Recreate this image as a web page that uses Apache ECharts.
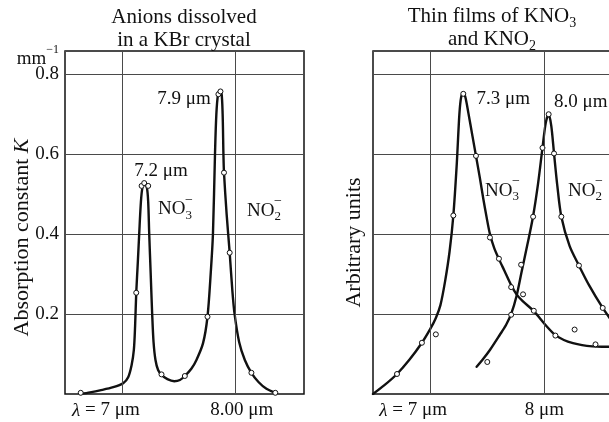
<!DOCTYPE html>
<html>
<head>
<meta charset="utf-8">
<script src="https://cdn.jsdelivr.net/npm/echarts@6/dist/echarts.min.js"></script>
<style>
  html, body { margin: 0; padding: 0; background: #fff; }
  #chart { width: 609px; height: 422px; }
</style>
</head>
<body>
<div id="chart"></div>
<script>
const FONT = '"Liberation Serif", "Times New Roman", serif';
const INK = '#111';
const GRID_INK = '#4a4a4a';

// Shared wavelength range (μm) and vertical range of both panels
const X_MIN = 6.5, X_MAX = 8.6;
const Y_MAX = 0.857;
const xGridValues = [7, 8];
const yTickValues = [0.2, 0.4, 0.6, 0.8];

// Tick texts
const kbrXTickLabels = ['λ = 7 μm', '8.00 μm'];
const filmXTickLabels = ['λ = 7 μm', '8 μm'];
const kbrUnit = 'mm';

// Panel 1: anions dissolved in a KBr crystal — fitted curve [λ μm, K mm⁻¹]
const kbrCurve = [
  [6.638, 0.0], [6.72, 0.004], [6.807, 0.009], [6.924, 0.017], [7.011, 0.027],
  [7.055, 0.042], [7.085, 0.072], [7.105, 0.11], [7.116, 0.17], [7.126, 0.253],
  [7.14, 0.33], [7.152, 0.4], [7.167, 0.48], [7.18, 0.515], [7.2, 0.527],
  [7.22, 0.515], [7.231, 0.48], [7.24, 0.4], [7.253, 0.3], [7.266, 0.2],
  [7.278, 0.13], [7.295, 0.085], [7.318, 0.06], [7.348, 0.048], [7.4, 0.037],
  [7.46, 0.032], [7.51, 0.035], [7.553, 0.045], [7.61, 0.063], [7.655, 0.085],
  [7.713, 0.127], [7.752, 0.193], [7.78, 0.3], [7.8, 0.4], [7.818, 0.6],
  [7.83, 0.7], [7.845, 0.75], [7.86, 0.758], [7.875, 0.753], [7.885, 0.7],
  [7.892, 0.6], [7.897, 0.553], [7.92, 0.45], [7.947, 0.353], [7.97, 0.26],
  [7.99, 0.2], [8.03, 0.13], [8.08, 0.085], [8.138, 0.053], [8.2, 0.03],
  [8.27, 0.013], [8.348, 0.003]
];
// Panel 1: measured points
const kbrPoints = [
  [6.638, 0.003], [7.126, 0.253], [7.173, 0.52], [7.196, 0.527], [7.231, 0.52],
  [7.348, 0.049], [7.553, 0.045], [7.752, 0.193], [7.848, 0.749], [7.866, 0.756],
  [7.897, 0.553], [7.947, 0.353], [8.138, 0.053], [8.348, 0.003]
];

// Panel 2: thin films of KNO3 and KNO2 — fitted curves (arbitrary units)
const filmNO3Curve = [
  [6.5, 0.0], [6.6, 0.022], [6.71, 0.05], [6.82, 0.086], [6.928, 0.128],
  [7.0, 0.162], [7.05, 0.19], [7.09, 0.222], [7.131, 0.282], [7.17, 0.356],
  [7.203, 0.446], [7.233, 0.575], [7.256, 0.7], [7.272, 0.743], [7.29, 0.752],
  [7.308, 0.742], [7.334, 0.703], [7.37, 0.645], [7.401, 0.595], [7.435, 0.54],
  [7.465, 0.488], [7.495, 0.44], [7.523, 0.4], [7.56, 0.365], [7.602, 0.337],
  [7.65, 0.308], [7.709, 0.272], [7.756, 0.249], [7.81, 0.232], [7.907, 0.207],
  [8.017, 0.17], [8.096, 0.147], [8.17, 0.135], [8.25, 0.127], [8.33, 0.122],
  [8.42, 0.119], [8.5, 0.118], [8.6, 0.118]
];
const filmNO2Curve = [
  [7.407, 0.068], [7.465, 0.088], [7.523, 0.11], [7.61, 0.148], [7.665, 0.173],
  [7.709, 0.2], [7.756, 0.245], [7.8, 0.305], [7.85, 0.372], [7.9, 0.443],
  [7.944, 0.525], [7.983, 0.615], [8.012, 0.678], [8.037, 0.699], [8.06, 0.67],
  [8.084, 0.601], [8.113, 0.52], [8.148, 0.443], [8.22, 0.37], [8.302, 0.321],
  [8.394, 0.27], [8.51, 0.215], [8.6, 0.178]
];
// Panel 2: measured points
const filmPoints = [
  [6.71, 0.05], [6.928, 0.128], [7.05, 0.149], [7.203, 0.446], [7.29, 0.75],
  [7.401, 0.595], [7.523, 0.391], [7.602, 0.338], [7.709, 0.267], [7.813, 0.249],
  [7.907, 0.208], [8.096, 0.146], [8.264, 0.161], [8.447, 0.124],
  [7.5, 0.08], [7.709, 0.198], [7.796, 0.323], [7.901, 0.443], [7.983, 0.615],
  [8.037, 0.699], [8.084, 0.601], [8.148, 0.443], [8.302, 0.321], [8.51, 0.215]
];

// Peak wavelength notes [λ, y, text] and ion labels [λ, y, subscript]
const kbrNotes = [[7.344, 0.556, '7.2 μm'], [7.546, 0.736, '7.9 μm']];
const filmNotes = [[7.64, 0.737, '7.3 μm'], [8.318, 0.73, '8.0 μm']];
const kbrIons = [[7.466, 0.46, '3'], [8.249, 0.457, '2']];
const filmIons = [[7.629, 0.507, '3'], [8.355, 0.507, '2']];

const near = (a, b) => Math.abs(a - b) < 1e-6;

function xAxis(idx, texts, shifts) {
  return {
    type: 'value', gridIndex: idx, min: X_MIN, max: X_MAX, interval: 0.5,
    splitLine: { show: false }, axisLine: { show: false }, axisTick: { show: false },
    axisLabel: {
      margin: 7, showMinLabel: true, showMaxLabel: true,
      color: INK, fontFamily: FONT, fontSize: 19,
      formatter: v => {
        const k = xGridValues.findIndex(t => near(t, v));
        if (k < 0) return '';
        const body = texts[k].replace('λ', '{i|λ}');
        const s = shifts[k];
        if (s < 0) return body + '{p' + (-s) + '| }';
        if (s > 0) return '{p' + s + '| }' + body;
        return body;
      },
      rich: {
        i: { fontStyle: 'italic', fontFamily: FONT, fontSize: 19, color: INK },
        p32: { width: 32 }, p34: { width: 34 }, p12: { width: 12 }
      }
    }
  };
}

function yAxis(idx, withLabels, name, gap, pad) {
  return {
    type: 'value', gridIndex: idx, min: 0, max: Y_MAX, interval: 0.2,
    axisLine: { show: false }, axisTick: { show: false },
    splitLine: { show: true, lineStyle: { color: GRID_INK, width: 1 } },
    axisLabel: {
      show: withLabels, margin: 6,
      color: INK, fontFamily: FONT, fontSize: 19,
      formatter: v => {
        const t = yTickValues.find(t => near(t, v));
        return t !== undefined ? t.toFixed(1) : '';
      }
    },
    name: name, nameLocation: 'middle', nameRotate: 90, nameGap: gap,
    nameMoveOverlap: false,
    nameTextStyle: {
      fontFamily: FONT, fontSize: 22, color: INK, padding: pad,
      rich: { k: { fontFamily: FONT, fontSize: 22, fontStyle: 'italic', color: INK } }
    }
  };
}

function curve(idx, data) {
  return {
    type: 'line', xAxisIndex: idx, yAxisIndex: idx, data: data,
    smooth: 0.3, symbol: 'none', showSymbol: false,
    lineStyle: { color: INK, width: 2.4, cap: 'round', join: 'round' }, z: 3, silent: true
  };
}

function verticalGrid(idx) {
  return {
    type: 'line', xAxisIndex: idx, yAxisIndex: idx, data: [], z: 1, silent: true,
    markLine: {
      silent: true, symbol: 'none', label: { show: false }, animation: false,
      lineStyle: { color: GRID_INK, width: 1, type: 'solid' },
      data: xGridValues.map(v => ({ xAxis: v }))
    }
  };
}

function points(idx, data) {
  return {
    type: 'scatter', xAxisIndex: idx, yAxisIndex: idx, data: data,
    symbol: 'circle', symbolSize: 5, z: 4, silent: true,
    itemStyle: { color: '#fff', borderColor: INK, borderWidth: 1, opacity: 1 }
  };
}

const chart = echarts.init(document.getElementById('chart'), null, { renderer: 'canvas' });

chart.setOption({
  animation: false,
  backgroundColor: '#fff',
  textStyle: { fontFamily: FONT },
  grid: [
    { left: 65, top: 51, width: 239, height: 343, show: true, borderColor: INK, borderWidth: 1.5, backgroundColor: 'transparent', outerBoundsMode: 'none' },
    { left: 373, top: 51, width: 240, height: 343, show: true, borderColor: INK, borderWidth: 1.5, backgroundColor: 'transparent', outerBoundsMode: 'none' }
  ],
  xAxis: [
    xAxis(0, kbrXTickLabels, [-32, 12]),
    xAxis(1, filmXTickLabels, [-34, 0])
  ],
  yAxis: [
    yAxis(0, true, 'Absorption constant {k|K}', 32, [0, 30, 0, 0]),
    yAxis(1, false, 'Arbitrary units', 8, [0, 40, 0, 0])
  ],
  series: [
    verticalGrid(0),
    curve(0, kbrCurve),
    points(0, kbrPoints),
    verticalGrid(1),
    curve(1, filmNO3Curve),
    curve(1, filmNO2Curve),
    points(1, filmPoints)
  ]
});

// Text placed at data coordinates of a panel
const toPx = (idx, x, y) => chart.convertToPixel({ xAxisIndex: idx, yAxisIndex: idx }, [x, y]);
const texts = [];

texts.push({
  type: 'text', x: 184, y: 6, silent: true,
  style: {
    text: 'Anions dissolved\nin a KBr crystal',
    font: '21px ' + FONT, fill: INK, align: 'center', verticalAlign: 'top', lineHeight: 23
  }
});
texts.push({
  type: 'text', x: 492, y: 6, silent: true,
  style: {
    text: '{m|Thin films of KNO}{s|3}\n{m|and KNO}{s|2}',
    font: '21px ' + FONT, fill: INK, align: 'center', verticalAlign: 'top',
    rich: {
      m: { fontFamily: FONT, fontSize: 21, fill: INK, lineHeight: 23, verticalAlign: 'top' },
      s: { fontFamily: FONT, fontSize: 14, fill: INK, lineHeight: 14, padding: [10, 0, 0, 0], verticalAlign: 'top' }
    }
  }
});

// Unit of the K axis beside the top end of the axis
const unitPos = toPx(0, X_MIN, Y_MAX);
texts.push({
  type: 'text', x: unitPos[0] - 6, y: unitPos[1] + 3, silent: true,
  style: {
    text: '{u|' + kbrUnit + '}{sup|−1}',
    fill: INK, align: 'right', verticalAlign: 'middle',
    rich: {
      u: { fontFamily: FONT, fontSize: 19, fill: INK, lineHeight: 20, padding: [6, 0, 0, 0], verticalAlign: 'top' },
      sup: { fontFamily: FONT, fontSize: 12, fill: INK, lineHeight: 12, verticalAlign: 'top' }
    }
  }
});

// Peak wavelengths
[[0, kbrNotes], [1, filmNotes]].forEach(([idx, list]) => list.forEach(([x, y, t]) => {
  const p = toPx(idx, x, y);
  texts.push({
    type: 'text', x: p[0], y: p[1], silent: true, z: 10,
    style: { text: t, font: '19px ' + FONT, fill: INK, align: 'center', verticalAlign: 'middle' }
  });
}));

// Ion labels: NO with subscript, charge sign set above the subscript
[[0, kbrIons], [1, filmIons]].forEach(([idx, list]) => list.forEach(([x, y, sub]) => {
  const p = toPx(idx, x, y);
  texts.push({
    type: 'text', x: p[0], y: p[1], silent: true, z: 10,
    style: {
      text: '{m|NO}{s|' + sub + '}', fill: INK, align: 'center', verticalAlign: 'middle',
      rich: {
        m: { fontFamily: FONT, fontSize: 19, fill: INK, lineHeight: 20, verticalAlign: 'top' },
        s: { fontFamily: FONT, fontSize: 13, fill: INK, lineHeight: 13, padding: [9, 0, 0, 0], verticalAlign: 'top' }
      }
    }
  });
  texts.push({
    type: 'text', x: p[0] + 14, y: p[1] - 10, silent: true, z: 10,
    style: { text: '−', font: '14px ' + FONT, fill: INK, align: 'center', verticalAlign: 'middle' }
  });
}));

chart.setOption({ graphic: texts });
</script>
</body>
</html>
